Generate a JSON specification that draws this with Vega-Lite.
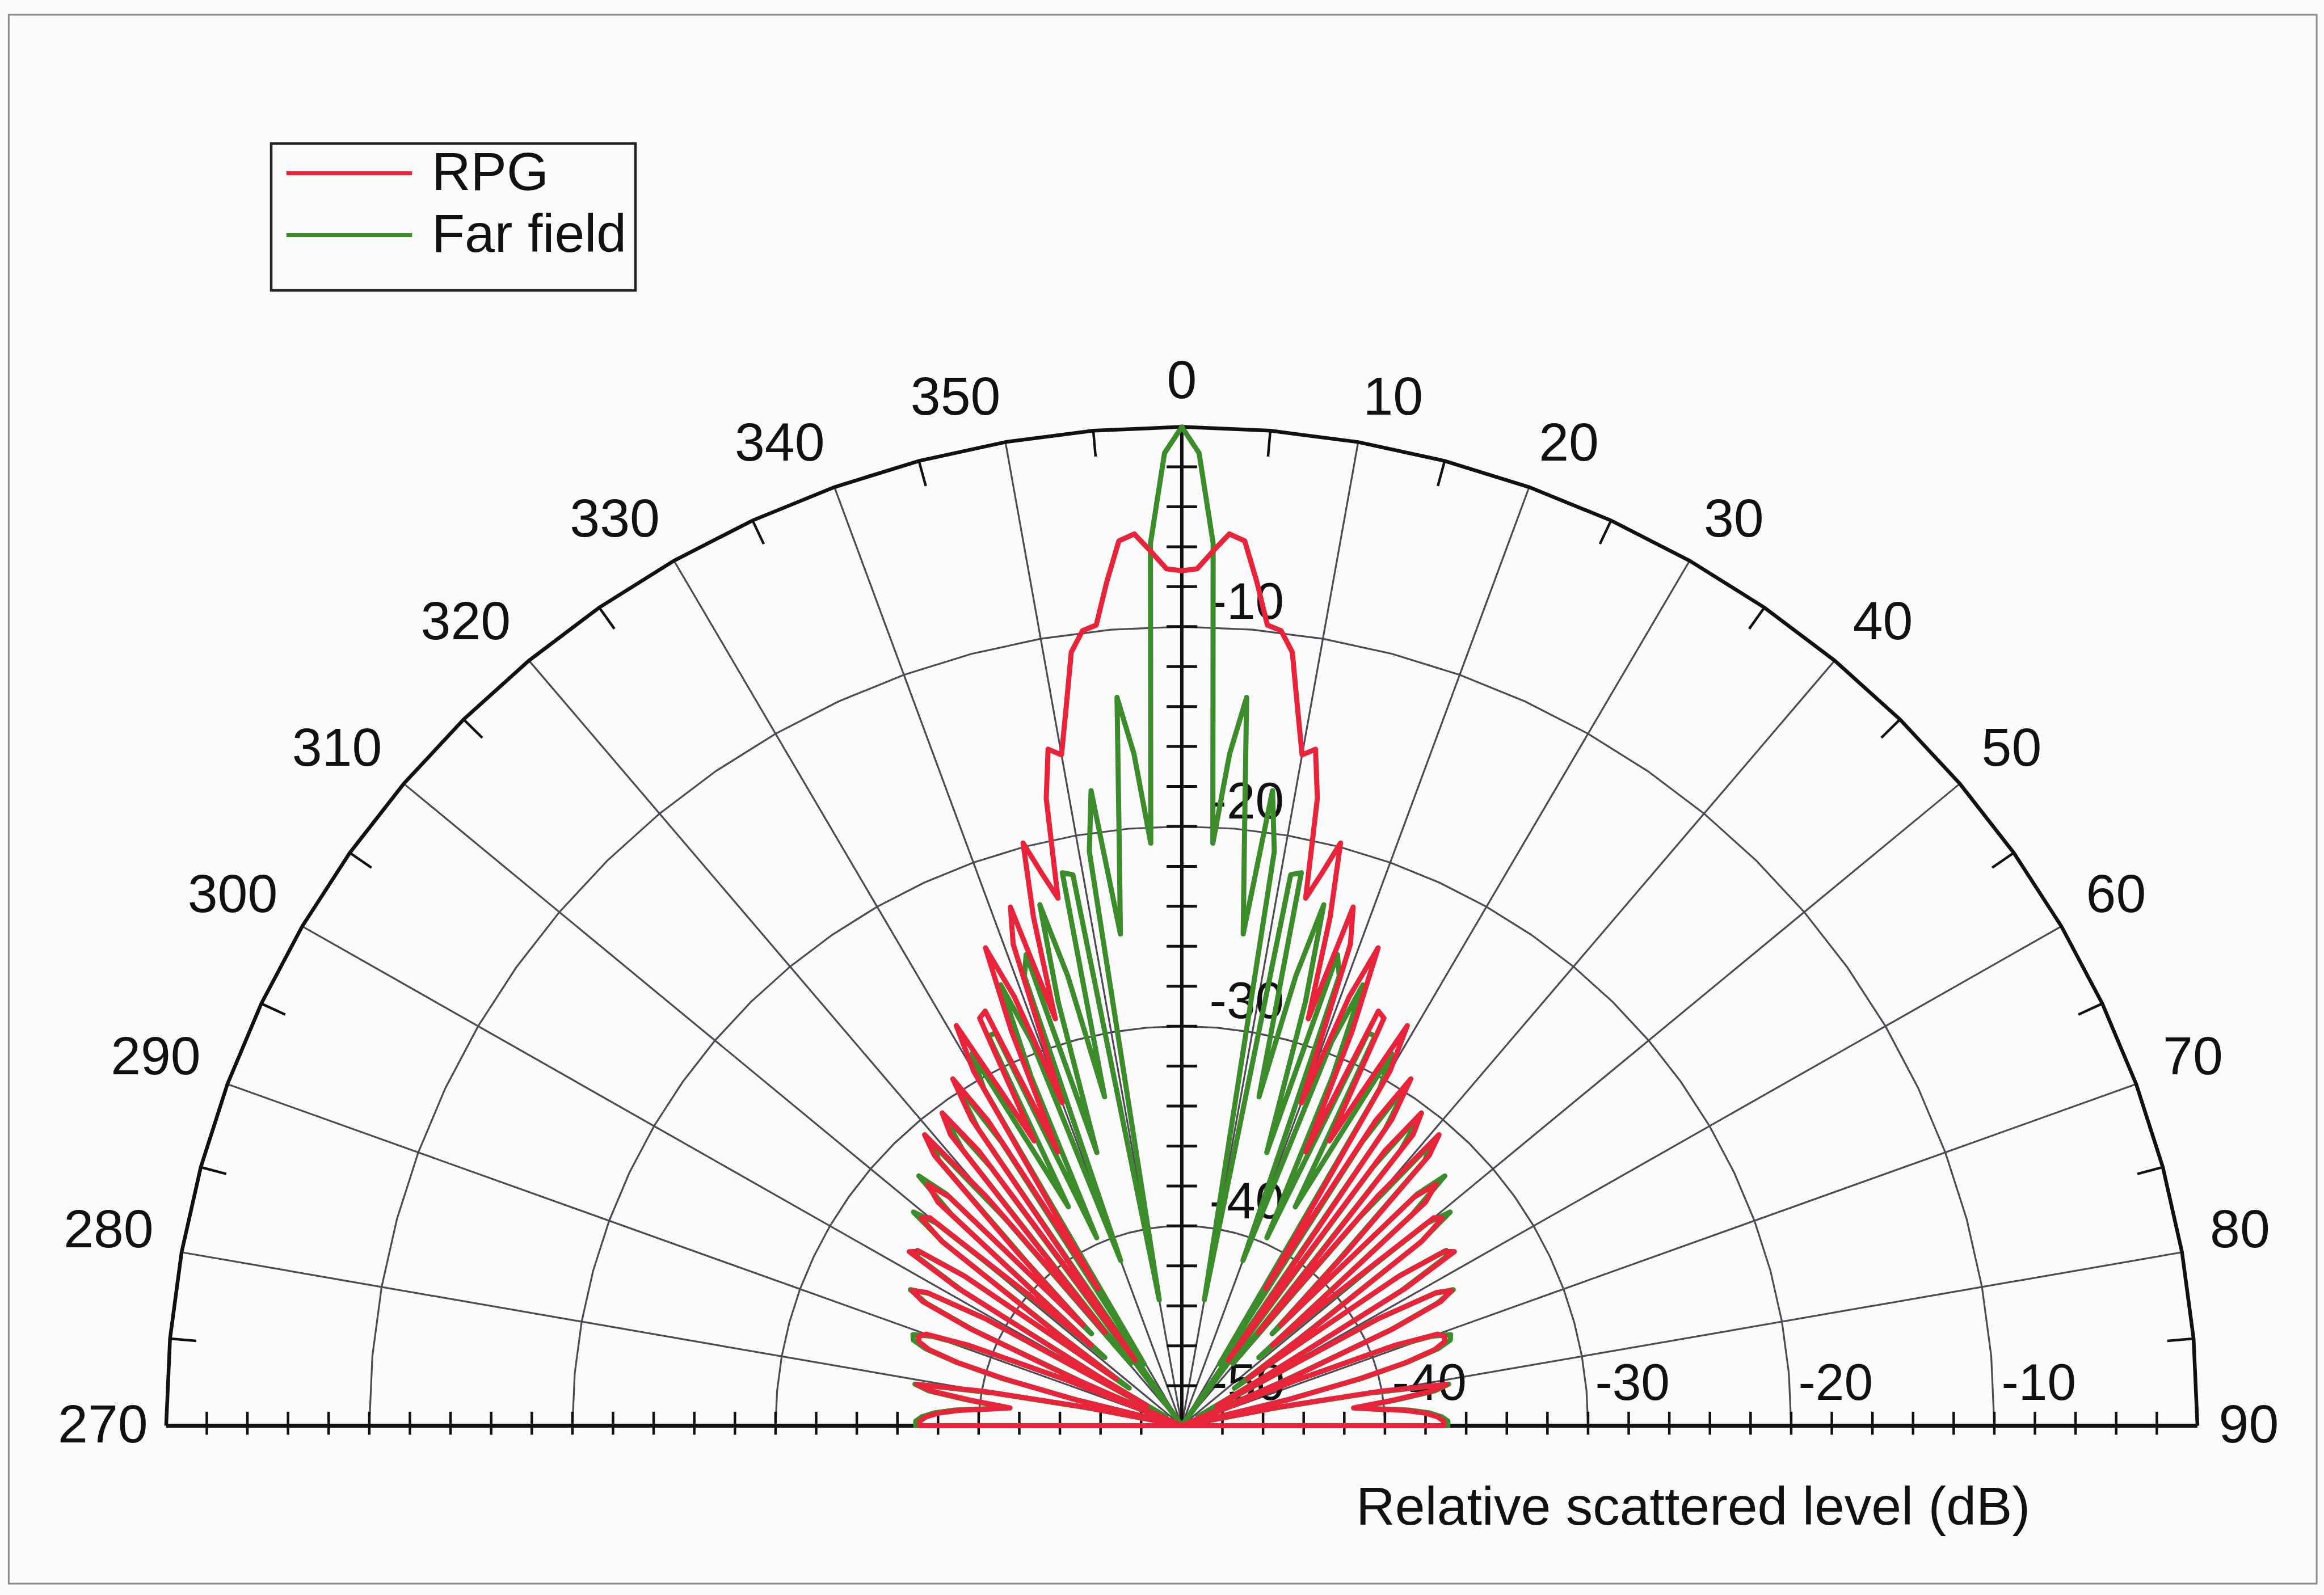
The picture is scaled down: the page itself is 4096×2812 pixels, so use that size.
{
  "$schema": "https://vega.github.io/schema/vega-lite/v6.json",
  "width": 4096,
  "height": 2812,
  "padding": 0,
  "autosize": {"type": "none"},
  "background": "#fcfbfc",
  "config": {"view": {"stroke": null}, "legend": {"strokeWidth": 4.5}},
  "datasets": {
    "pattern": [
      {"a":-91,"rpg":-50,"ff":-50},
      {"a":-90,"rpg":-37.1,"ff":-36.9},{"a":-89,"rpg":-37.1,"ff":-36.9},{"a":-88,"rpg":-37.4,"ff":-37.2},{"a":-87,"rpg":-38,"ff":-37.8},{"a":-86,"rpg":-39,"ff":-38.8},
      {"a":-85,"rpg":-40.5,"ff":-40.3},{"a":-84,"rpg":-41.5,"ff":-41.3},{"a":-83,"rpg":-39.5,"ff":-39.3},{"a":-82,"rpg":-37.6,"ff":-37.4},{"a":-81,"rpg":-36.8,"ff":-36.7},
      {"a":-80,"rpg":-40,"ff":-40.5},{"a":-79,"rpg":-45,"ff":-45.5},{"a":-78,"rpg":-50,"ff":-50},{"a":-77,"rpg":-50,"ff":-50},{"a":-76,"rpg":-44.5,"ff":-44.6},
      {"a":-75,"rpg":-41,"ff":-40.8},{"a":-74,"rpg":-38.5,"ff":-38.4},{"a":-73,"rpg":-37,"ff":-36.8},{"a":-72,"rpg":-36.4,"ff":-36.1},{"a":-71,"rpg":-36.3,"ff":-36},
      {"a":-70,"rpg":-36.6,"ff":-36.9},{"a":-69,"rpg":-38.8,"ff":-39.2},{"a":-68,"rpg":-44,"ff":-44},{"a":-67,"rpg":-50,"ff":-50},{"a":-66,"rpg":-44,"ff":-44.7},
      {"a":-65,"rpg":-38.5,"ff":-38.7},{"a":-64,"rpg":-35.8,"ff":-36},{"a":-63,"rpg":-35.1,"ff":-35},{"a":-62,"rpg":-35.8,"ff":-35.9},{"a":-61,"rpg":-39,"ff":-39},
      {"a":-60,"rpg":-48,"ff":-49.1},{"a":-59,"rpg":-45,"ff":-45.3},{"a":-58,"rpg":-37,"ff":-37.3},{"a":-57,"rpg":-34,"ff":-34.5},{"a":-56,"rpg":-34.4,"ff":-34.3},
      {"a":-55,"rpg":-37,"ff":-36.9},{"a":-54,"rpg":-46,"ff":-46.8},{"a":-53,"rpg":-42,"ff":-42.7},{"a":-52,"rpg":-35,"ff":-35.1},{"a":-51,"rpg":-33.5,"ff":-33},
      {"a":-50,"rpg":-33.8,"ff":-34.2},{"a":-49,"rpg":-40,"ff":-40.9},{"a":-48,"rpg":-44,"ff":-44.9},{"a":-47,"rpg":-33.6,"ff":-34.5},{"a":-46,"rpg":-32.6,"ff":-32},
      {"a":-45,"rpg":-33.8,"ff":-33.6},{"a":-44,"rpg":-43,"ff":-43.6},{"a":-43,"rpg":-38,"ff":-38.9},{"a":-42,"rpg":-31.8,"ff":-32.1},{"a":-41,"rpg":-30.7,"ff":-31.4},
      {"a":-40,"rpg":-35,"ff":-36.4},{"a":-39,"rpg":-44,"ff":-46},{"a":-38,"rpg":-31.5,"ff":-32.5},{"a":-37,"rpg":-30.4,"ff":-30.4},{"a":-36,"rpg":-33,"ff":-34},
      {"a":-35,"rpg":-46,"ff":-50},{"a":-34,"rpg":-31.5,"ff":-32.1},{"a":-33,"rpg":-29.3,"ff":-29.5},{"a":-32,"rpg":-32,"ff":-33.3},{"a":-31,"rpg":-42,"ff":-46.4},
      {"a":-30,"rpg":-29.5,"ff":-30.5},{"a":-29,"rpg":-27.1,"ff":-28.7},{"a":-28,"rpg":-31,"ff":-34.3},{"a":-27,"rpg":-34,"ff":-37.7},{"a":-26,"rpg":-27.3,"ff":-28.3},
      {"a":-25,"rpg":-27.1,"ff":-28.3},{"a":-24,"rpg":-35,"ff":-39.7},{"a":-23,"rpg":-28.5,"ff":-31},{"a":-22,"rpg":-24.2,"ff":-26.2},{"a":-21,"rpg":-27,"ff":-29.4},
      {"a":-20,"rpg":-32.8,"ff":-41.2},{"a":-19,"rpg":-24.5,"ff":-26.2},{"a":-18,"rpg":-22.7,"ff":-25.2},{"a":-17,"rpg":-28.7,"ff":-35.7},{"a":-16,"rpg":-23.5,"ff":-27.9},
      {"a":-15,"rpg":-19.8,"ff":-23},{"a":-14,"rpg":-21.5,"ff":-26.8},{"a":-13,"rpg":-22.9,"ff":-33.1},{"a":-12,"rpg":-17.9,"ff":-21.7},{"a":-11,"rpg":-15.5,"ff":-21.9},
      {"a":-10,"rpg":-15.9,"ff":-43.6},{"a":-9,"rpg":-13.6,"ff":-20.9},{"a":-8,"rpg":-10.9,"ff":-17.9},{"a":-7,"rpg":-9.9,"ff":-25.2},{"a":-6,"rpg":-9.7,"ff":-20.5},
      {"a":-5,"rpg":-7.6,"ff":-13.4},{"a":-4,"rpg":-5.6,"ff":-16.3},{"a":-3,"rpg":-5.3,"ff":-20.8},{"a":-2,"rpg":-6.2,"ff":-5.8},{"a":-1,"rpg":-7.1,"ff":-1.3},
      {"a":0,"rpg":-7.2,"ff":0},
      {"a":1,"rpg":-7.1,"ff":-1.3},{"a":2,"rpg":-6.2,"ff":-5.8},{"a":3,"rpg":-5.3,"ff":-20.8},{"a":4,"rpg":-5.6,"ff":-16.3},{"a":5,"rpg":-7.6,"ff":-13.4},
      {"a":6,"rpg":-9.7,"ff":-20.5},{"a":7,"rpg":-9.9,"ff":-25.2},{"a":8,"rpg":-10.9,"ff":-17.9},{"a":9,"rpg":-13.6,"ff":-20.9},{"a":10,"rpg":-15.9,"ff":-43.6},
      {"a":11,"rpg":-15.5,"ff":-21.9},{"a":12,"rpg":-17.9,"ff":-21.7},{"a":13,"rpg":-22.9,"ff":-33.1},{"a":14,"rpg":-21.5,"ff":-26.8},{"a":15,"rpg":-19.8,"ff":-23},
      {"a":16,"rpg":-23.5,"ff":-27.9},{"a":17,"rpg":-28.7,"ff":-35.7},{"a":18,"rpg":-22.7,"ff":-25.2},{"a":19,"rpg":-24.5,"ff":-26.2},{"a":20,"rpg":-32.8,"ff":-41.2},
      {"a":21,"rpg":-27,"ff":-29.4},{"a":22,"rpg":-24.2,"ff":-26.2},{"a":23,"rpg":-28.5,"ff":-31},{"a":24,"rpg":-35,"ff":-39.7},{"a":25,"rpg":-27.1,"ff":-28.3},
      {"a":26,"rpg":-27.3,"ff":-28.3},{"a":27,"rpg":-34,"ff":-37.7},{"a":28,"rpg":-31,"ff":-34.3},{"a":29,"rpg":-27.1,"ff":-28.7},{"a":30,"rpg":-29.5,"ff":-30.5},
      {"a":31,"rpg":-42,"ff":-46.4},{"a":32,"rpg":-32,"ff":-33.3},{"a":33,"rpg":-29.3,"ff":-29.5},{"a":34,"rpg":-31.5,"ff":-32.1},{"a":35,"rpg":-46,"ff":-50},
      {"a":36,"rpg":-33,"ff":-34},{"a":37,"rpg":-30.4,"ff":-30.4},{"a":38,"rpg":-31.5,"ff":-32.5},{"a":39,"rpg":-44,"ff":-46},{"a":40,"rpg":-35,"ff":-36.4},
      {"a":41,"rpg":-30.7,"ff":-31.4},{"a":42,"rpg":-31.8,"ff":-32.1},{"a":43,"rpg":-38,"ff":-38.9},{"a":44,"rpg":-43,"ff":-43.6},{"a":45,"rpg":-33.8,"ff":-33.6},
      {"a":46,"rpg":-32.6,"ff":-32},{"a":47,"rpg":-33.6,"ff":-34.5},{"a":48,"rpg":-44,"ff":-44.9},{"a":49,"rpg":-40,"ff":-40.9},{"a":50,"rpg":-33.8,"ff":-34.2},
      {"a":51,"rpg":-33.5,"ff":-33},{"a":52,"rpg":-35,"ff":-35.1},{"a":53,"rpg":-42,"ff":-42.7},{"a":54,"rpg":-46,"ff":-46.8},{"a":55,"rpg":-37,"ff":-36.9},
      {"a":56,"rpg":-34.4,"ff":-34.3},{"a":57,"rpg":-34,"ff":-34.5},{"a":58,"rpg":-37,"ff":-37.3},{"a":59,"rpg":-45,"ff":-45.3},{"a":60,"rpg":-48,"ff":-49.1},
      {"a":61,"rpg":-39,"ff":-39},{"a":62,"rpg":-35.8,"ff":-35.9},{"a":63,"rpg":-35.1,"ff":-35},{"a":64,"rpg":-35.8,"ff":-36},{"a":65,"rpg":-38.5,"ff":-38.7},
      {"a":66,"rpg":-44,"ff":-44.7},{"a":67,"rpg":-50,"ff":-50},{"a":68,"rpg":-44,"ff":-44},{"a":69,"rpg":-38.8,"ff":-39.2},{"a":70,"rpg":-36.6,"ff":-36.9},
      {"a":71,"rpg":-36.3,"ff":-36},{"a":72,"rpg":-36.4,"ff":-36.1},{"a":73,"rpg":-37,"ff":-36.8},{"a":74,"rpg":-38.5,"ff":-38.4},{"a":75,"rpg":-41,"ff":-40.8},
      {"a":76,"rpg":-44.5,"ff":-44.6},{"a":77,"rpg":-50,"ff":-50},{"a":78,"rpg":-50,"ff":-50},{"a":79,"rpg":-45,"ff":-45.5},{"a":80,"rpg":-40,"ff":-40.5},
      {"a":81,"rpg":-36.8,"ff":-36.7},{"a":82,"rpg":-37.6,"ff":-37.4},{"a":83,"rpg":-39.5,"ff":-39.3},{"a":84,"rpg":-41.5,"ff":-41.3},{"a":85,"rpg":-40.5,"ff":-40.3},
      {"a":86,"rpg":-39,"ff":-38.8},{"a":87,"rpg":-38,"ff":-37.8},{"a":88,"rpg":-37.4,"ff":-37.2},{"a":89,"rpg":-37.1,"ff":-36.9},{"a":90,"rpg":-37.1,"ff":-36.9},
      {"a":91,"rpg":-50,"ff":-50}
    ],
    "rings": [
      {"lv":-40,"a":[-90,-85,-80,-75,-70,-65,-60,-55,-50,-45,-40,-35,-30,-25,-20,-15,-10,-5,0,5,10,15,20,25,30,35,40,45,50,55,60,65,70,75,80,85,90]},
      {"lv":-30,"a":[-90,-85,-80,-75,-70,-65,-60,-55,-50,-45,-40,-35,-30,-25,-20,-15,-10,-5,0,5,10,15,20,25,30,35,40,45,50,55,60,65,70,75,80,85,90]},
      {"lv":-20,"a":[-90,-85,-80,-75,-70,-65,-60,-55,-50,-45,-40,-35,-30,-25,-20,-15,-10,-5,0,5,10,15,20,25,30,35,40,45,50,55,60,65,70,75,80,85,90]},
      {"lv":-10,"a":[-90,-85,-80,-75,-70,-65,-60,-55,-50,-45,-40,-35,-30,-25,-20,-15,-10,-5,0,5,10,15,20,25,30,35,40,45,50,55,60,65,70,75,80,85,90]}
    ],
    "outer": [
      {"lv":0,"a":[-90,-85,-80,-75,-70,-65,-60,-55,-50,-45,-40,-35,-30,-25,-20,-15,-10,-5,0,5,10,15,20,25,30,35,40,45,50,55,60,65,70,75,80,85,90]}
    ],
    "spokes": [{"a":-80},{"a":-70},{"a":-60},{"a":-50},{"a":-40},{"a":-30},{"a":-20},{"a":-10},{"a":10},{"a":20},{"a":30},{"a":40},{"a":50},{"a":60},{"a":70},{"a":80}],
    "minor": [{"a":-85},{"a":-75},{"a":-65},{"a":-55},{"a":-45},{"a":-35},{"a":-25},{"a":-15},{"a":-5},{"a":5},{"a":15},{"a":25},{"a":35},{"a":45},{"a":55},{"a":65},{"a":75},{"a":85}],
    "levels": [{"lv":-48},{"lv":-46},{"lv":-44},{"lv":-42},{"lv":-40},{"lv":-38},{"lv":-36},{"lv":-34},{"lv":-32},{"lv":-30},{"lv":-28},{"lv":-26},{"lv":-24},{"lv":-22},{"lv":-20},{"lv":-18},{"lv":-16},{"lv":-14},{"lv":-12},{"lv":-10},{"lv":-8},{"lv":-6},{"lv":-4},{"lv":-2}],
    "angleLabels": [
      {"a":0,"t":"0"},{"a":10,"t":"10"},{"a":20,"t":"20"},{"a":30,"t":"30"},{"a":40,"t":"40"},{"a":50,"t":"50"},{"a":60,"t":"60"},{"a":70,"t":"70"},{"a":80,"t":"80"},{"a":90,"t":"90"},
      {"a":-10,"t":"350"},{"a":-20,"t":"340"},{"a":-30,"t":"330"},{"a":-40,"t":"320"},{"a":-50,"t":"310"},{"a":-60,"t":"300"},{"a":-70,"t":"290"},{"a":-80,"t":"280"},{"a":-90,"t":"270"}
    ],
    "radialLabels": [{"lv":-10,"t":"-10"},{"lv":-20,"t":"-20"},{"lv":-30,"t":"-30"},{"lv":-40,"t":"-40"}],
    "hLabels": [{"lv":-40,"t":"-40"},{"lv":-30,"t":"-30"},{"lv":-20,"t":"-20"},{"lv":-10,"t":"-10"}]
  },
  "encoding": {
    "x": {"field": "px", "type": "quantitative", "scale": {"domain": [-58.18, 56.23], "nice": false, "zero": false}, "axis": null},
    "y": {"field": "py", "type": "quantitative", "scale": {"domain": [-8.475, 71.37], "nice": false, "zero": false}, "axis": null}
  },
  "layer": [
    {
      "data": {"values": [{"frame": "border"}]},
      "transform": [
        {"calculate": "-57.75", "as": "px"},
        {"calculate": "70.63", "as": "py"},
        {"calculate": "55.87", "as": "qx"},
        {"calculate": "-7.91", "as": "qy"}
      ],
      "mark": {"type": "rect", "fill": null, "stroke": "#8c8a8e", "strokeWidth": 3},
      "encoding": {"x2": {"field": "qx"}, "y2": {"field": "qy"}}
    },
    {
      "data": {"name": "rings"},
      "transform": [
        {"flatten": ["a"]},
        {"calculate": "(datum.lv + 50) * sin(datum.a * PI / 180)", "as": "px"},
        {"calculate": "(datum.lv + 50) * cos(datum.a * PI / 180)", "as": "py"}
      ],
      "mark": {"type": "line", "stroke": "#4e4954", "strokeWidth": 3.2},
      "encoding": {"detail": {"field": "lv"}, "order": {"field": "a", "type": "quantitative"}}
    },
    {
      "data": {"name": "spokes"},
      "transform": [
        {"calculate": "0", "as": "px"},
        {"calculate": "0", "as": "py"},
        {"calculate": "50 * sin(datum.a * PI / 180)", "as": "qx"},
        {"calculate": "50 * cos(datum.a * PI / 180)", "as": "qy"}
      ],
      "mark": {"type": "rule", "stroke": "#4e4954", "strokeWidth": 3.2},
      "encoding": {"x2": {"field": "qx"}, "y2": {"field": "qy"}}
    },
    {
      "data": {"name": "outer"},
      "transform": [
        {"flatten": ["a"]},
        {"calculate": "(datum.lv + 50) * sin(datum.a * PI / 180)", "as": "px"},
        {"calculate": "(datum.lv + 50) * cos(datum.a * PI / 180)", "as": "py"}
      ],
      "mark": {"type": "line", "stroke": "#111111", "strokeWidth": 6.5},
      "encoding": {"order": {"field": "a", "type": "quantitative"}}
    },
    {
      "data": {"name": "minor"},
      "transform": [
        {"calculate": "48.7 * sin(datum.a * PI / 180)", "as": "px"},
        {"calculate": "48.7 * cos(datum.a * PI / 180)", "as": "py"},
        {"calculate": "50 * sin(datum.a * PI / 180)", "as": "qx"},
        {"calculate": "50 * cos(datum.a * PI / 180)", "as": "qy"}
      ],
      "mark": {"type": "rule", "stroke": "#111111", "strokeWidth": 4.5},
      "encoding": {"x2": {"field": "qx"}, "y2": {"field": "qy"}}
    },
    {
      "data": {"values": [{"axis": "radial"}]},
      "transform": [
        {"calculate": "0", "as": "px"},
        {"calculate": "0", "as": "py"},
        {"calculate": "0", "as": "qx"},
        {"calculate": "50", "as": "qy"}
      ],
      "mark": {"type": "rule", "stroke": "#111111", "strokeWidth": 6},
      "encoding": {"x2": {"field": "qx"}, "y2": {"field": "qy"}}
    },
    {
      "data": {"name": "levels"},
      "transform": [
        {"calculate": "-0.75", "as": "px"},
        {"calculate": "datum.lv + 50", "as": "py"},
        {"calculate": "0.75", "as": "qx"},
        {"calculate": "datum.lv + 50", "as": "qy"}
      ],
      "mark": {"type": "rule", "stroke": "#111111", "strokeWidth": 5},
      "encoding": {"x2": {"field": "qx"}, "y2": {"field": "qy"}}
    },
    {
      "data": {"values": [{"axis": "horizontal"}]},
      "transform": [
        {"calculate": "-50", "as": "px"},
        {"calculate": "0", "as": "py"},
        {"calculate": "50", "as": "qx"},
        {"calculate": "0", "as": "qy"}
      ],
      "mark": {"type": "rule", "stroke": "#111111", "strokeWidth": 7},
      "encoding": {"x2": {"field": "qx"}, "y2": {"field": "qy"}}
    },
    {
      "data": {"name": "levels"},
      "transform": [
        {"calculate": "datum.lv + 50", "as": "px"},
        {"calculate": "-0.45", "as": "py"},
        {"calculate": "datum.lv + 50", "as": "qx"},
        {"calculate": "0.7", "as": "qy"}
      ],
      "mark": {"type": "rule", "stroke": "#111111", "strokeWidth": 4.5},
      "encoding": {"x2": {"field": "qx"}, "y2": {"field": "qy"}}
    },
    {
      "data": {"name": "levels"},
      "transform": [
        {"calculate": "-(datum.lv + 50)", "as": "px"},
        {"calculate": "-0.45", "as": "py"},
        {"calculate": "-(datum.lv + 50)", "as": "qx"},
        {"calculate": "0.7", "as": "qy"}
      ],
      "mark": {"type": "rule", "stroke": "#111111", "strokeWidth": 4.5},
      "encoding": {"x2": {"field": "qx"}, "y2": {"field": "qy"}}
    },
    {
      "data": {"name": "angleLabels"},
      "transform": [
        {"filter": "datum.a > 0 && datum.a < 90"},
        {"calculate": "51.4 * sin(datum.a * PI / 180)", "as": "px"},
        {"calculate": "51.4 * cos(datum.a * PI / 180)", "as": "py"}
      ],
      "mark": {"type": "text", "align": "left", "baseline": "alphabetic", "font": "Liberation Sans", "fontSize": 95, "fill": "#111111"},
      "encoding": {"text": {"field": "t"}}
    },
    {
      "data": {"name": "angleLabels"},
      "transform": [
        {"filter": "datum.a < 0 && datum.a > -90"},
        {"calculate": "51.4 * sin(datum.a * PI / 180)", "as": "px"},
        {"calculate": "51.4 * cos(datum.a * PI / 180)", "as": "py"}
      ],
      "mark": {"type": "text", "align": "right", "baseline": "alphabetic", "font": "Liberation Sans", "fontSize": 95, "fill": "#111111"},
      "encoding": {"text": {"field": "t"}}
    },
    {
      "data": {"name": "angleLabels"},
      "transform": [
        {"filter": "datum.a == 0"},
        {"calculate": "0", "as": "px"},
        {"calculate": "51.45", "as": "py"}
      ],
      "mark": {"type": "text", "align": "center", "baseline": "alphabetic", "font": "Liberation Sans", "fontSize": 95, "fill": "#111111"},
      "encoding": {"text": {"field": "t"}}
    },
    {
      "data": {"name": "angleLabels"},
      "transform": [
        {"filter": "datum.a == 90"},
        {"calculate": "51.05", "as": "px"},
        {"calculate": "0", "as": "py"}
      ],
      "mark": {"type": "text", "align": "left", "baseline": "middle", "font": "Liberation Sans", "fontSize": 95, "fill": "#111111"},
      "encoding": {"text": {"field": "t"}}
    },
    {
      "data": {"name": "angleLabels"},
      "transform": [
        {"filter": "datum.a == -90"},
        {"calculate": "-50.9", "as": "px"},
        {"calculate": "0", "as": "py"}
      ],
      "mark": {"type": "text", "align": "right", "baseline": "middle", "font": "Liberation Sans", "fontSize": 95, "fill": "#111111"},
      "encoding": {"text": {"field": "t"}}
    },
    {
      "data": {"name": "radialLabels"},
      "transform": [
        {"calculate": "1.36", "as": "px"},
        {"calculate": "datum.lv + 50 + 0.39", "as": "py"}
      ],
      "mark": {"type": "text", "align": "left", "baseline": "alphabetic", "font": "Liberation Sans", "fontSize": 91, "fill": "#111111"},
      "encoding": {"text": {"field": "t"}}
    },
    {
      "data": {"name": "hLabels"},
      "transform": [
        {"calculate": "datum.lv + 50 + 0.35", "as": "px"},
        {"calculate": "1.3", "as": "py"}
      ],
      "mark": {"type": "text", "align": "left", "baseline": "alphabetic", "font": "Liberation Sans", "fontSize": 91, "fill": "#111111"},
      "encoding": {"text": {"field": "t"}}
    },
    {
      "data": {"values": [{"t": "-50"}]},
      "transform": [
        {"calculate": "1.4", "as": "px"},
        {"calculate": "1.3", "as": "py"}
      ],
      "mark": {"type": "text", "align": "left", "baseline": "alphabetic", "font": "Liberation Sans", "fontSize": 91, "fill": "#111111"},
      "encoding": {"text": {"field": "t"}}
    },
    {
      "data": {"values": [{"t": "Relative scattered level (dB)"}]},
      "transform": [
        {"calculate": "8.58", "as": "px"},
        {"calculate": "-4.95", "as": "py"}
      ],
      "mark": {"type": "text", "align": "left", "baseline": "alphabetic", "font": "Liberation Sans", "fontSize": 95, "fill": "#111111"},
      "encoding": {"text": {"field": "t"}}
    },
    {
      "data": {"name": "pattern"},
      "transform": [
        {"calculate": "'Far field'", "as": "series"},
        {"calculate": "max(datum.ff + 50, 0)", "as": "r"},
        {"calculate": "datum.r * sin(datum.a * PI / 180)", "as": "px"},
        {"calculate": "datum.r * cos(datum.a * PI / 180)", "as": "py"}
      ],
      "mark": {"type": "line", "strokeWidth": 9, "strokeJoin": "round"},
      "encoding": {
        "order": {"field": "a", "type": "quantitative"},
        "color": {
          "field": "series", "type": "nominal",
          "scale": {"domain": ["RPG", "Far field"], "range": ["#e8243a", "#3c8c2c"]},
          "legend": {
            "orient": "none", "legendX": 478, "legendY": 253,
            "title": " ", "titleOrient": "bottom", "titleFontSize": 30, "titlePadding": 4,
            "symbolType": "stroke", "symbolSize": 49000, "symbolStrokeWidth": 7, "symbolOffset": 8,
            "labelFontSize": 95, "labelFont": "Liberation Sans", "labelColor": "#111111", "labelLimit": 0,
            "strokeColor": "#222222", "padding": 15, "rowPadding": 13, "labelOffset": 31, "clipHeight": 75
          }
        }
      }
    },
    {
      "data": {"name": "pattern"},
      "transform": [
        {"calculate": "'RPG'", "as": "series"},
        {"calculate": "max(datum.rpg + 50, 0)", "as": "r"},
        {"calculate": "datum.r * sin(datum.a * PI / 180)", "as": "px"},
        {"calculate": "datum.r * cos(datum.a * PI / 180)", "as": "py"}
      ],
      "mark": {"type": "line", "strokeWidth": 9, "strokeJoin": "round"},
      "encoding": {
        "order": {"field": "a", "type": "quantitative"},
        "color": {"field": "series", "type": "nominal", "scale": {"domain": ["RPG", "Far field"], "range": ["#e8243a", "#3c8c2c"]}}
      }
    }
  ]
}
